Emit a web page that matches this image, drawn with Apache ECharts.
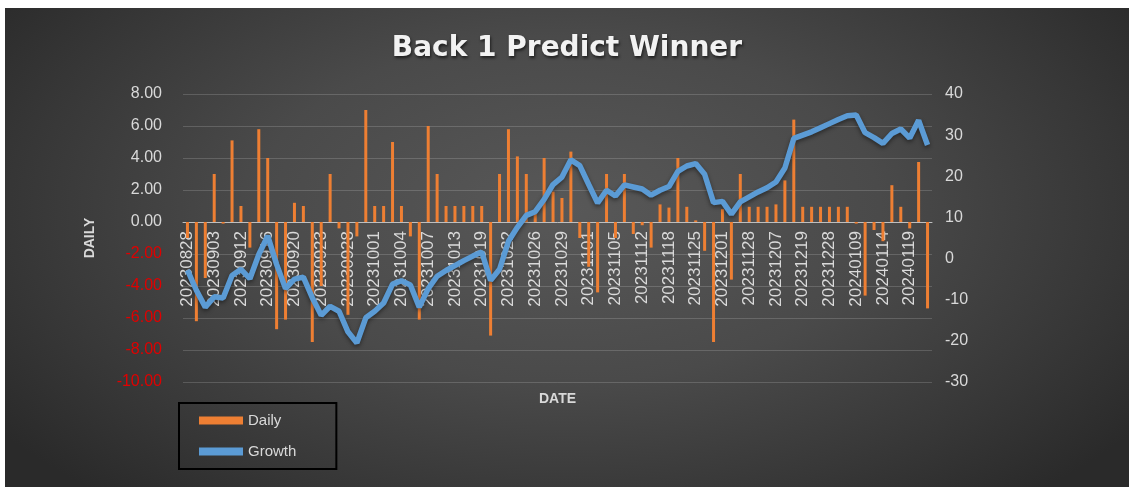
<!DOCTYPE html>
<html><head><meta charset="utf-8">
<script src="https://cdn.jsdelivr.net/npm/echarts@6/dist/echarts.min.js"></script>
<style>
html,body{margin:0;padding:0;background:#fff;width:1136px;height:492px;overflow:hidden;}
#chart{position:absolute;left:5px;top:8px;width:1124px;height:479px;
background:radial-gradient(ellipse 62% 80% at 50% 42%, #585858 0%, #4a4a4a 45%, #363636 80%, #2a2a2a 100%);}
</style></head><body><div id="chart"></div>
<script>
const dates = [
'20230828','20230830','20230901','20230903','20230906','20230909','20230912','20230913','20230914',
'20230916','20230917','20230918','20230920','20230921','20230922','20230923','20230925','20230926',
'20230928','20230929','20230930','20231001','20231002','20231003','20231004','20231005','20231006',
'20231007','20231009','20231011','20231013','20231015','20231017','20231019','20231020','20231021',
'20231022','20231024','20231025','20231026','20231027','20231028','20231029','20231030','20231031',
'20231101','20231102','20231103','20231105','20231108','20231110','20231112','20231114','20231116',
'20231118','20231120','20231122','20231125','20231127','20231129','20231201','20231202','20231203',
'20231128','20231204','20231205','20231207','20231210','20231215','20231219','20231222','20231225',
'20231228','20240102','20240105','20240109','20240111','20240112','20240114','20240116','20240117',
'20240119','20240121','20240123'];
const daily = [
-1.0,-6.2,-3.5,3.0,-0.1,5.1,1.0,-1.6,5.8,
4.0,-6.7,-6.1,1.2,1.0,-7.5,-4.0,3.0,-0.4,
-5.8,-0.9,7.0,1.0,1.0,5.0,1.0,-0.9,-6.1,
6.0,3.0,1.0,1.0,1.0,1.0,1.0,-7.1,3.0,
5.8,4.1,3.0,0.5,4.0,1.9,1.5,4.4,-1.0,
-2.8,-4.4,3.0,-1.0,3.0,-0.75,-0.2,-1.6,1.1,
0.9,4.0,0.95,0.1,-1.8,-7.5,0.8,-3.6,3.0,
0.95,0.95,0.95,1.1,2.6,6.4,0.95,0.95,0.95,
0.95,0.95,0.95,-0.1,-4.6,-0.5,-1.2,2.3,0.95,
-0.4,3.75,-5.4];
const growth = [
-2.8,-7.7,-11.8,-9.3,-9.6,-4.1,-2.6,-4.9,1.0,
5.5,-1.4,-7.3,-5.0,-4.5,-9.5,-13.8,-11.6,-12.8,
-17.8,-20.5,-14.4,-12.8,-10.8,-6.2,-5.4,-6.4,-11.8,
-7.3,-4.3,-2.9,-1.7,-0.5,0.6,1.6,-5.3,-2.6,
4.2,7.6,10.5,11.4,14.4,18.0,19.8,24.0,22.6,
18.0,13.5,16.6,15.2,17.9,17.4,16.9,15.4,16.6,
17.5,21.2,22.5,23.1,20.5,13.6,13.9,10.8,13.8,
15.0,16.2,17.2,18.6,22.0,29.2,30.0,30.8,31.8,
32.8,33.8,34.7,34.9,30.6,29.4,28.0,30.4,31.5,
29.3,33.6,27.6];

const chart = echarts.init(document.getElementById('chart'), null, {renderer:'canvas'});
const txt = '#d9d9d9';
chart.setOption({
  backgroundColor: 'transparent',
  animation: false,
  title: {
    text: 'Back 1 Predict Winner', left: 'center', top: 22,
    textStyle: {color:'#f2f2f2', fontFamily:'DejaVu Sans', fontWeight:'bold', fontSize:28,
      textShadowColor:'rgba(0,0,0,0.6)', textShadowBlur:3, textShadowOffsetX:1, textShadowOffsetY:2}
  },
  legend: {
    orient:'vertical', left:174, top:395,
    padding:[10,40,10,20], itemGap:16, itemWidth:44, itemHeight:8,
    borderColor:'#000', borderWidth:2,
    textStyle:{color:txt, fontSize:15, fontFamily:'Liberation Sans'},
    data:[{name:'Daily', icon:'rect'},{name:'Growth', icon:'rect'}]
  },
  grid: {left:178, top:86, width:749, height:288, containLabel:false, outerBoundsMode:'none'},
  xAxis: {
    type:'category', data:dates, boundaryGap:true, position:'bottom', offset:-160,
    name:'DATE', nameLocation:'middle', nameGap:170,
    nameTextStyle:{color:txt, fontWeight:'bold', fontSize:14, fontFamily:'Liberation Sans'},
    axisLine:{onZero:false, lineStyle:{color:'#bfbfbf', width:1}},
    axisTick:{show:false},
    axisLabel:{interval:2, rotate:90, color:txt, fontSize:17, fontFamily:'Liberation Sans', margin:9}
  },
  yAxis: [{
    type:'value', min:-10, max:8, interval:2,
    name:'DAILY', nameLocation:'middle', nameGap:86, nameRotate:90,
    nameTextStyle:{color:txt, fontWeight:'bold', fontSize:14, fontFamily:'Liberation Sans'},
    axisLine:{show:false}, axisTick:{show:false},
    splitLine:{lineStyle:{color:'rgba(255,255,255,0.16)', width:1}},
    axisLabel:{fontSize:16, fontFamily:'Liberation Sans', margin:21,
      formatter:v=>v.toFixed(2),
      color:(v)=> (Number(v) < 0 ? '#e00000' : txt)}
  },{
    type:'value', min:-30, max:40, interval:10, position:'right',
    axisLine:{show:false}, axisTick:{show:false}, splitLine:{show:false},
    axisLabel:{fontSize:16, fontFamily:'Liberation Sans', margin:13, color:txt}
  }],
  series: [{
    name:'Daily', type:'bar', data:daily, yAxisIndex:0, barWidth:3,
    itemStyle:{color:'#ee7f33'}
  },{
    name:'Growth', type:'line', data:growth, yAxisIndex:1,
    symbol:'none', smooth:false,
    lineStyle:{color:'#5b9bd5', width:5.5, shadowColor:'rgba(0,0,0,0.45)', shadowBlur:4, shadowOffsetY:2},
    itemStyle:{color:'#5b9bd5'}
  }]
});
</script></body></html>
